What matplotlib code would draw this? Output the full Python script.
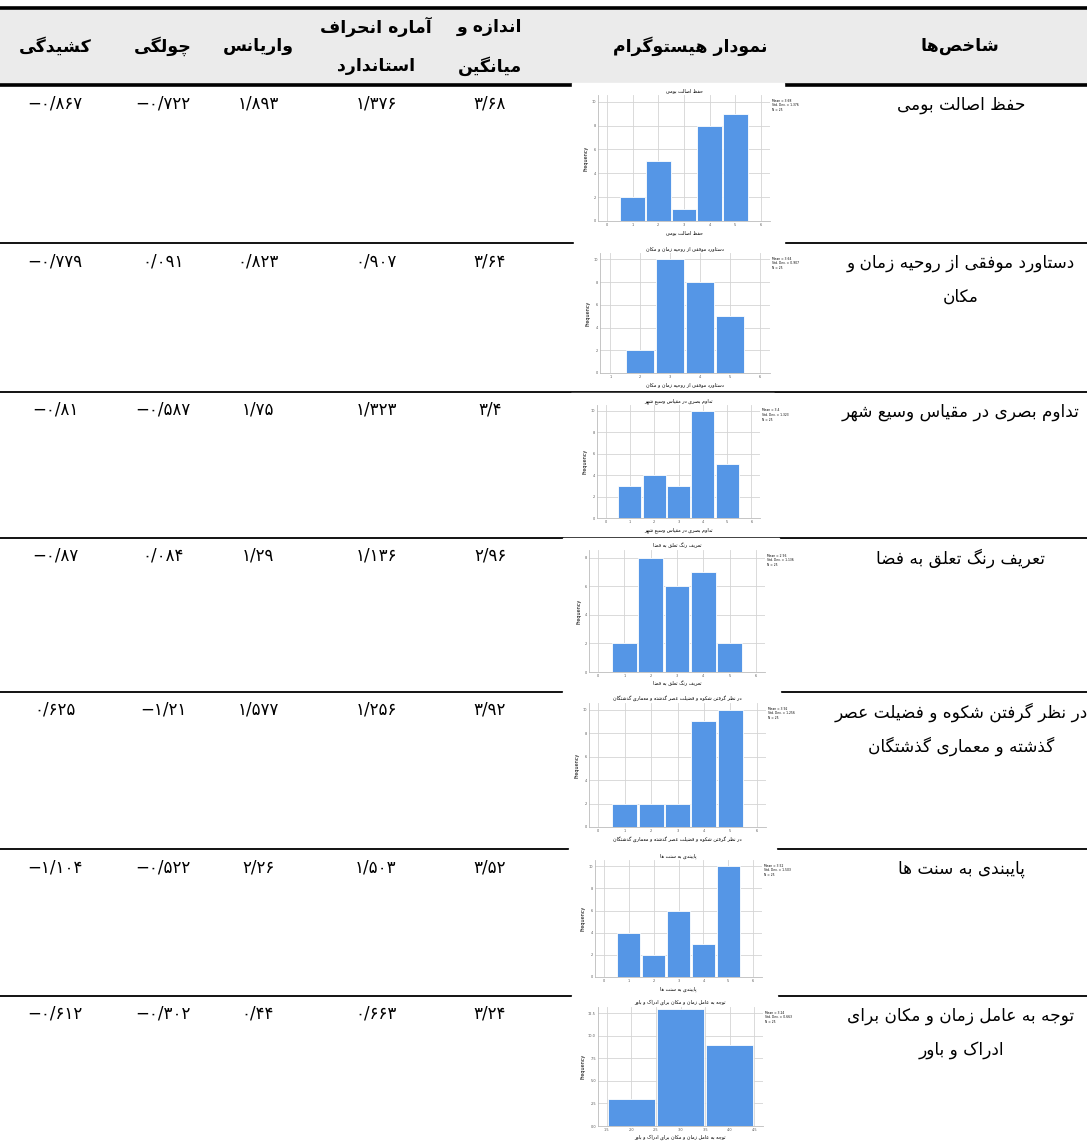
import matplotlib
matplotlib.use('Agg')
import matplotlib.pyplot as plt
from matplotlib.patches import Rectangle

plt.rcParams['font.family'] = ['DejaVu Sans']

headers = ['شاخص‌ها', 'نمودار هیستوگرام', 'اندازه و\nمیانگین', 'آماره انحراف\nاستاندارد',
           'واریانس', 'چولگی', 'کشیدگی']
names = ['حفظ اصالت بومی',
         'دستاورد موفقی از روحیه زمان و\nمکان',
         'تداوم بصری در مقیاس وسیع شهر',
         'تعریف رنگ تعلق به فضا',
         'در نظر گرفتن شکوه و فضیلت عصر\nگذشته و معماری گذشتگان',
         'پایبندی به سنت ها',
         'توجه به عامل زمان و مکان برای\nادراک و باور']
means = ['3.68', '3.64', '3.4', '2.96', '3.92', '3.52', '3.24']
stds = ['1.376', '0.907', '1.323', '1.136', '1.256', '1.503', '0.663']
variances = ['1.893', '0.823', '1.75', '1.29', '1.577', '2.26', '0.44']
skews = ['-0.722', '0.091', '-0.587', '0.084', '-1.21', '-0.522', '-0.302']
kurts = ['-0.867', '-0.779', '-0.81', '-0.87', '0.625', '-1.104', '-0.612']

hist_centers = [[1, 2, 3, 4, 5], [2, 3, 4, 5], [1, 2, 3, 4, 5], [1, 2, 3, 4, 5],
                [1, 2, 3, 4, 5], [1, 2, 3, 4, 5], [2, 3, 4]]
hist_counts = [[2, 5, 1, 8, 9], [2, 10, 8, 5], [3, 4, 3, 10, 5], [2, 8, 6, 7, 2],
               [2, 2, 2, 9, 10], [4, 2, 6, 3, 10], [3, 13, 9]]
hist_xticks = [[0, 1, 2, 3, 4, 5, 6], [1, 2, 3, 4, 5, 6], [0, 1, 2, 3, 4, 5, 6],
               [0, 1, 2, 3, 4, 5, 6], [0, 1, 2, 3, 4, 5, 6], [0, 1, 2, 3, 4, 5, 6],
               [1.5, 2.0, 2.5, 3.0, 3.5, 4.0, 4.5]]
hist_yticks = [[0, 2, 4, 6, 8, 10], [0, 2, 4, 6, 8, 10], [0, 2, 4, 6, 8, 10],
               [0, 2, 4, 6, 8], [0, 2, 4, 6, 8, 10], [0, 2, 4, 6, 8, 10],
               [0, 2.5, 5.0, 7.5, 10.0, 12.5]]

# ---- minimal arabic/persian shaping (matplotlib has no complex text layout) ----
FORMS = {
    'ا': ('\uFE8D', '\uFE8E', None, None), 'آ': ('\uFE81', '\uFE82', None, None),
    'ب': ('\uFE8F', '\uFE90', '\uFE91', '\uFE92'), 'ت': ('\uFE95', '\uFE96', '\uFE97', '\uFE98'),
    'ث': ('\uFE99', '\uFE9A', '\uFE9B', '\uFE9C'), 'ج': ('\uFE9D', '\uFE9E', '\uFE9F', '\uFEA0'),
    'ح': ('\uFEA1', '\uFEA2', '\uFEA3', '\uFEA4'), 'خ': ('\uFEA5', '\uFEA6', '\uFEA7', '\uFEA8'),
    'د': ('\uFEA9', '\uFEAA', None, None), 'ذ': ('\uFEAB', '\uFEAC', None, None),
    'ر': ('\uFEAD', '\uFEAE', None, None), 'ز': ('\uFEAF', '\uFEB0', None, None),
    'ژ': ('\uFB8A', '\uFB8B', None, None), 'و': ('\uFEED', '\uFEEE', None, None),
    'س': ('\uFEB1', '\uFEB2', '\uFEB3', '\uFEB4'), 'ش': ('\uFEB5', '\uFEB6', '\uFEB7', '\uFEB8'),
    'ص': ('\uFEB9', '\uFEBA', '\uFEBB', '\uFEBC'), 'ض': ('\uFEBD', '\uFEBE', '\uFEBF', '\uFEC0'),
    'ط': ('\uFEC1', '\uFEC2', '\uFEC3', '\uFEC4'), 'ظ': ('\uFEC5', '\uFEC6', '\uFEC7', '\uFEC8'),
    'ع': ('\uFEC9', '\uFECA', '\uFECB', '\uFECC'), 'غ': ('\uFECD', '\uFECE', '\uFECF', '\uFED0'),
    'ف': ('\uFED1', '\uFED2', '\uFED3', '\uFED4'), 'ق': ('\uFED5', '\uFED6', '\uFED7', '\uFED8'),
    'ل': ('\uFEDD', '\uFEDE', '\uFEDF', '\uFEE0'), 'م': ('\uFEE1', '\uFEE2', '\uFEE3', '\uFEE4'),
    'ن': ('\uFEE5', '\uFEE6', '\uFEE7', '\uFEE8'), 'ه': ('\uFEE9', '\uFEEA', '\uFEEB', '\uFEEC'),
    'پ': ('\uFB56', '\uFB57', '\uFB58', '\uFB59'), 'چ': ('\uFB7A', '\uFB7B', '\uFB7C', '\uFB7D'),
    'ک': ('\uFB8E', '\uFB8F', '\uFB90', '\uFB91'), 'گ': ('\uFB92', '\uFB93', '\uFB94', '\uFB95'),
    'ی': ('\uFBFC', '\uFBFD', '\uFBFE', '\uFBFF'),
}
LAMALEF = {'ا': ('\uFEFB', '\uFEFC'), 'آ': ('\uFEF5', '\uFEF6')}


def joins_next(c):
    return c in FORMS and FORMS[c][2] is not None


def shape(text):
    out = []
    i = 0
    n = len(text)
    while i < n:
        c = text[i]
        if c not in FORMS:
            if c != '\u200c':
                out.append(c)
            i += 1
            continue
        cp = i > 0 and joins_next(text[i - 1])
        if c == 'ل' and i + 1 < n and text[i + 1] in LAMALEF:
            out.append(LAMALEF[text[i + 1]][1 if cp else 0])
            i += 2
            continue
        cn = joins_next(c) and i + 1 < n and text[i + 1] in FORMS
        iso, fin, ini, med = FORMS[c]
        if cp and cn:
            out.append(med)
        elif cp:
            out.append(fin)
        elif cn:
            out.append(ini)
        else:
            out.append(iso)
        i += 1
    return ''.join(reversed(out))


def fa_num(s):
    digits = '۰۱۲۳۴۵۶۷۸۹'
    r = ''
    for ch in s:
        if ch.isdigit():
            r += digits[int(ch)]
        elif ch == '.':
            r += '/'
        elif ch == '-':
            r += '\u2212'
        else:
            r += ch
    return r


W, H = 1087, 1142
fig = plt.figure(figsize=(W / 100, H / 100), dpi=100)
ax = fig.add_axes([0, 0, 1, 1])
ax.set_xlim(0, W)
ax.set_ylim(H, 0)
ax.axis('off')

# header band
ax.add_patch(Rectangle((0, 8), W, 77, color='#ebebeb', zorder=0))
ax.plot([0, W], [8, 8], color='black', lw=2.6, zorder=2)
ax.plot([0, W], [85, 85], color='black', lw=2.6, zorder=2)

col_x = [960, 690, 490, 376, 258, 163, 55]
for x, h in zip(col_x, headers):
    lines = h.split('\n')
    if len(lines) == 1:
        ax.text(x, 46, shape(lines[0]), ha='center', va='center', fontsize=12.5,
                fontweight='bold', zorder=3)
    else:
        ax.text(x, 27, shape(lines[0]), ha='center', va='center', fontsize=12.5,
                fontweight='bold', zorder=3)
        ax.text(x, 66, shape(lines[1]), ha='center', va='center', fontsize=12.5,
                fontweight='bold', zorder=3)

row_tops = [85, 243, 392, 538, 692, 849, 996]
for y in row_tops[1:]:
    ax.plot([0, W], [y, y], color='black', lw=1.3, zorder=2)

# histogram axes boxes (left, top, right, bottom) in pixels
hist_boxes = [(598, 95, 770, 221), (600, 253, 770, 373), (597, 405, 760, 518),
              (589, 550, 765, 672), (589, 703, 766, 827), (595, 860, 762, 977),
              (598, 1007, 763, 1126)]

for i in range(len(names)):
    top = row_tops[i]
    for j, line in enumerate(names[i].split('\n')):
        ax.text(961, top + 20 + j * 34, shape(line), ha='center', va='center',
                fontsize=12.2, zorder=3)
    for x, v in zip(col_x[2:], [means[i], stds[i], variances[i], skews[i], kurts[i]]):
        ax.text(x, top + 18, fa_num(v), ha='center', va='center', fontsize=12, zorder=3)

    l, t, r, b = hist_boxes[i]
    ax.add_patch(Rectangle((l - 26, t - 12), (r - l) + 40, (b - t) + 26,
                           color='white', zorder=2.5))

    hx = fig.add_axes([l / W, 1 - b / H, (r - l) / W, (b - t) / H])
    xt = hist_xticks[i]
    step = xt[1] - xt[0]
    bw = 0.95 if step == 1 else 0.95 * 2 * step
    hx.bar(hist_centers[i], hist_counts[i], width=bw, color='#5596e6',
           edgecolor='white', linewidth=0.6, zorder=3)
    hx.set_xticks(xt)
    hx.set_yticks(hist_yticks[i])
    hx.set_xlim(xt[0] - 0.35 * step, xt[-1] + 0.35 * step)
    yt = hist_yticks[i]
    hx.set_ylim(0, yt[-1] + (yt[1] - yt[0]) * 0.28)
    hx.grid(True, color='#d4d4d4', lw=0.6, zorder=0)
    hx.tick_params(labelsize=2.5, length=0, pad=1.5, colors='#555555')
    for s in ['top', 'right']:
        hx.spines[s].set_visible(False)
    for s in ['left', 'bottom']:
        hx.spines[s].set_color('#bbbbbb')
        hx.spines[s].set_linewidth(0.6)
    flat = names[i].replace('\n', ' ')
    hx.set_title(shape(flat), fontsize=3.5, pad=2)
    hx.set_xlabel(shape(flat), fontsize=3.5, labelpad=2)
    hx.set_ylabel('Frequency', fontsize=3.5, labelpad=2)
    hx.text(1.01, 0.97, 'Mean = %s\nStd. Dev. = %s\nN = 25' % (means[i], stds[i]),
            transform=hx.transAxes, fontsize=2.2, va='top', ha='left')

fig.savefig('out.png', dpi=100)
